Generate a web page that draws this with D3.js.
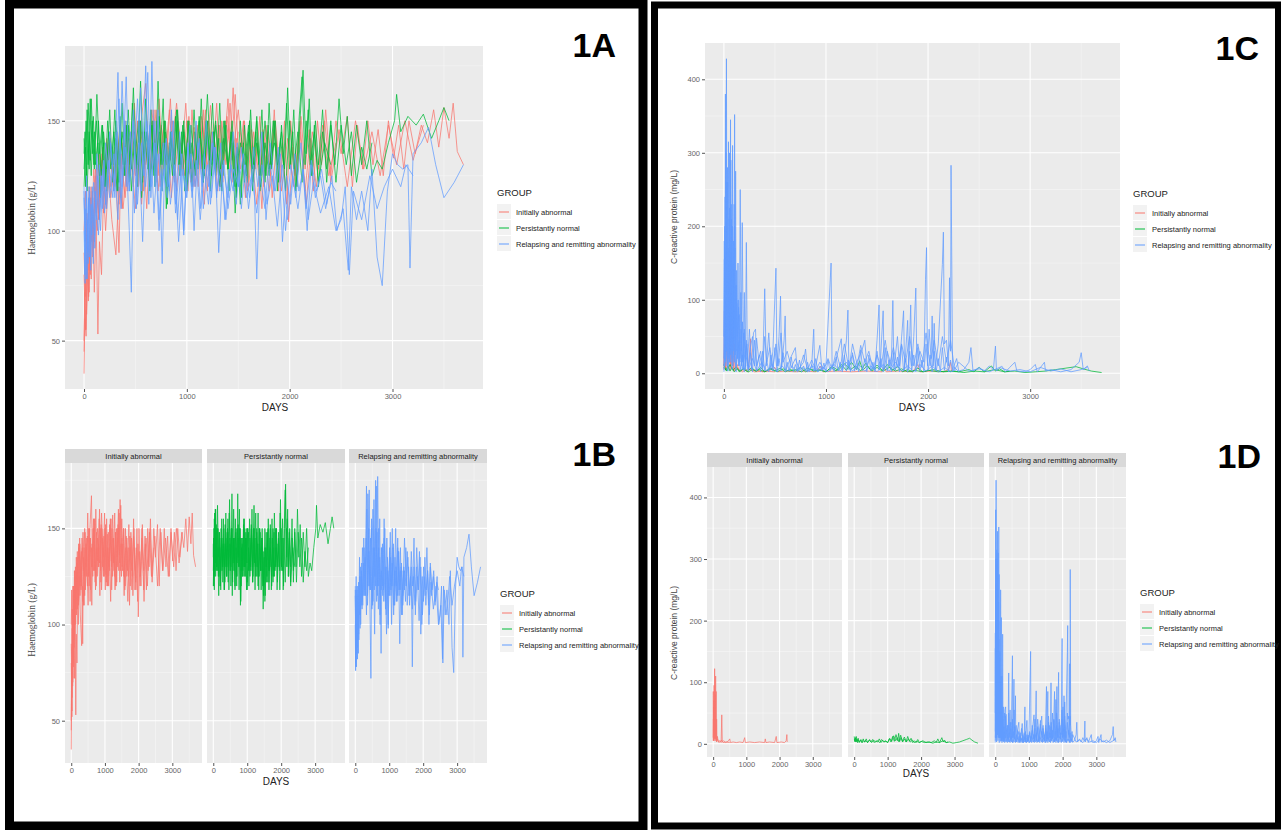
<!DOCTYPE html>
<html>
<head>
<meta charset="utf-8">
<script src="https://cdn.jsdelivr.net/npm/d3@7"></script>
<style>
  body { margin: 0; background: #fff; }
  text { font-family: "Liberation Sans", Arial, sans-serif; }
</style>
</head>
<body>
<div id="chart"></div>
<script>
// Groups and colours (ggplot default hue palette)
const groups = ["Initially abnormal", "Persistantly normal", "Relapsing and remitting abnormality"];
const colors = ["#F8766D", "#00BA38", "#619CFF"];

const xTicks = [0, 1000, 2000, 3000];
const xMinor = [500, 1500, 2500, 3500];
const hbTicks = [50, 100, 150];
const hbMinor = [75, 125, 175];
const crpTicks = [0, 100, 200, 300, 400];
const crpMinor = [50, 150, 250, 350];

// Haemoglobin (g/L), one array of [day, value] per patient
const hbInitiallyAbnormal = [
  [[0,35],[8,60],[20,52],[35,85],[50,72],[70,110],[90,95],[110,125],[140,108],[170,132],[200,118],[240,140],[280,122],[320,145],[360,128],[400,150],[440,130],[480,146],[520,125],[560,152],[600,167],[630,130],[670,150],[710,122],[750,148],[790,133],[830,155],[870,128],[910,150],[950,135],[990,158],[1030,126],[1070,147],[1110,120],[1150,150],[1190,133],[1230,157],[1270,128],[1310,148],[1350,122],[1390,152],[1430,136],[1470,162],[1510,130],[1550,150],[1590,118],[1630,146],[1670,128],[1710,152],[1750,120],[1790,145],[1830,115],[1870,140],[1910,122],[1950,150],[1990,104],[2030,138],[2070,120],[2110,152],[2150,128],[2190,146],[2230,118],[2270,150],[2310,130],[2350,155],[2400,125],[2450,150],[2500,135],[2560,152],[2610,120],[2660,148],[2710,128],[2760,150],[2810,130],[2860,146],[2910,125],[2960,150],[3010,133],[3060,148],[3110,128],[3160,150],[3220,135],[3280,148],[3340,140],[3400,155],[3450,138],[3500,156],[3550,142],[3590,158],[3630,136],[3690,130]],
  [[0,50],[10,78],[25,62],[40,95],[60,80],[80,118],[100,98],[125,130],[150,105],[180,138],[210,112],[250,145],[290,118],[330,140],[370,110],[410,148],[450,125],[490,158],[530,120],[570,145],[610,110],[650,150],[690,128],[730,160],[770,125],[810,142],[850,115],[890,152],[930,130],[970,146],[1010,118],[1050,155],[1090,125],[1130,140],[1170,112],[1210,150],[1250,132],[1290,158],[1330,120],[1370,145],[1410,128],[1450,165],[1490,125],[1530,142],[1570,115],[1610,150],[1650,125],[1690,140],[1730,110],[1770,148],[1810,125],[1850,155],[1890,118],[1930,140],[1970,112],[2010,150],[2050,125],[2100,145],[2150,118],[2200,142],[2260,120],[2320,148],[2380,125],[2450,140]],
  [[0,80],[15,55],[30,98],[45,70],[65,115],[85,88],[105,120],[130,100],[160,128],[190,108],[220,140],[260,120],[300,138],[340,90],[360,135],[400,115],[440,142],[480,120],[520,150],[560,112],[600,140],[640,125],[680,155],[720,118],[760,140],[800,130],[840,160],[880,122],[920,145],[960,128],[1000,150],[1040,122],[1080,140],[1120,130],[1160,155],[1200,118],[1240,145],[1280,125],[1320,148],[1360,135],[1400,160],[1440,122],[1480,142],[1520,128],[1560,150],[1600,120],[1650,145],[1700,125],[1750,140],[1800,118],[1850,146],[1900,128]],
  [[0,90],[12,70],[28,108],[48,82],[68,120],[88,92],[112,128],[140,105],[175,135],[215,110],[255,142],[300,120],[350,148],[400,125],[450,140],[500,110],[550,145],[600,130],[660,155],[720,125],[780,150],[840,132],[900,158],[960,125],[1020,148],[1080,120],[1140,152],[1200,130],[1260,145],[1320,120],[1380,150],[1440,132],[1500,155],[1560,125],[1620,140],[1680,112],[1740,146],[1800,128],[1860,150],[1920,118],[1980,142],[2040,120],[2100,150],[2160,112],[2220,145],[2280,128],[2340,150],[2400,122],[2480,146],[2560,120],[2640,150],[2720,128],[2800,145],[2880,125],[2960,148],[3040,130],[3120,150],[3200,132],[3300,148]],
  [[0,45],[8,72],[18,55],[30,88],[42,68],[55,100],[70,78],[85,110],[100,72],[118,105],[135,53],[150,95],[170,80],[190,118],[210,100],[240,125],[270,105],[310,89],[340,120],[380,110],[420,132]],
  [[0,100],[15,118],[30,85],[50,120],[70,95],[95,128],[120,108],[150,135],[185,118],[220,142],[260,115],[300,130],[340,112],[380,140],[420,118],[460,145],[500,125],[540,150],[580,118],[620,142],[660,128],[700,155],[740,120],[780,145],[820,130],[860,150],[900,118],[940,140],[980,125],[1020,152],[1060,120],[1100,148],[1140,128],[1180,155],[1220,125],[1260,140],[1300,118],[1340,150],[1380,130],[1420,158],[1460,128],[1500,145]]
];

const hbPersistantlyNormal = [
  [[0,142],[15,120],[30,155],[50,128],[70,160],[95,130],[120,150],[150,125],[180,148],[210,120],[240,145],[270,130],[300,155],[330,118],[360,142],[390,125],[420,150],[450,130],[480,165],[510,128],[540,150],[570,122],[600,160],[630,132],[660,148],[690,120],[720,168],[750,130],[780,150],[810,112],[840,145],[870,128],[900,155],[930,125],[960,148],[990,132],[1020,150],[1050,120],[1080,145],[1110,128],[1140,160],[1170,125],[1200,150],[1230,118],[1260,145],[1290,130],[1320,158],[1350,125],[1380,148],[1410,118],[1440,140],[1470,108],[1500,135],[1530,115],[1560,148],[1590,122],[1620,155],[1650,128],[1680,150],[1710,118],[1740,145],[1770,125],[1800,158],[1830,130],[1860,150],[1890,122],[1920,148],[1950,128],[1980,165],[2010,130],[2040,155],[2070,120],[2100,150],[2130,173],[2160,135],[2190,160],[2220,125],[2250,150],[2280,130],[2320,155],[2360,122],[2400,148],[2440,130],[2480,160],[2520,135],[2560,152],[2600,125],[2650,148],[2700,130],[2750,150],[2800,125],[2850,132],[2900,128],[2960,140],[3020,150],[3040,162],[3080,145],[3150,152],[3230,148],[3300,153],[3380,142],[3450,150],[3500,156],[3550,150]],
  [[0,135],[10,145],[25,125],[40,158],[60,132],[80,150],[100,128],[125,162],[150,135],[175,148],[200,120],[230,150],[260,128],[290,145],[320,118],[350,152],[380,130],[410,148],[440,122],[470,158],[500,135],[530,150],[560,115],[590,145],[620,128],[650,155],[680,125],[710,150],[740,135],[770,160],[800,110],[830,140],[860,125],[890,152],[920,130],[950,145],[980,118],[1010,150],[1040,128],[1070,155],[1100,130],[1130,145],[1160,122],[1190,150],[1220,132],[1250,158],[1280,125],[1310,142],[1340,118],[1370,150],[1400,128],[1430,145],[1460,120],[1490,138],[1520,112],[1550,140],[1580,125],[1610,150],[1640,118],[1670,145],[1700,130],[1730,155],[1760,122],[1790,148],[1820,128],[1850,150],[1880,118],[1910,142],[1940,130],[1970,158],[2000,128],[2030,145],[2060,118],[2090,150],[2120,170],[2150,130],[2180,155],[2210,125],[2240,148],[2280,120],[2320,145],[2360,128],[2400,150],[2450,122],[2500,148],[2550,130],[2600,145],[2650,122],[2700,138],[2750,128],[2800,140]],
  [[0,120],[15,138],[30,118],[50,145],[70,125],[90,152],[110,130],[135,140],[160,115],[190,145],[220,128],[250,155],[280,122],[310,142],[340,130],[370,158],[400,125],[430,148],[460,118],[490,142],[520,130],[550,168],[580,128],[610,145],[640,120],[670,150],[700,132],[730,145],[760,118],[790,150],[820,128],[850,145],[880,125],[910,155],[940,130],[970,150],[1000,122],[1040,148],[1080,125],[1120,150],[1160,130],[1200,162],[1240,125],[1280,148],[1320,120],[1360,150],[1400,128],[1440,145],[1480,115],[1520,150],[1560,122],[1600,145],[1640,128],[1680,152],[1720,120],[1760,140],[1800,125],[1840,150],[1880,130],[1920,145],[1960,118],[2000,150],[2040,128],[2080,145],[2120,122],[2160,150],[2200,130],[2240,145],[2280,122],[2340,140],[2400,130]],
  [[0,128],[20,150],[40,130],[60,160],[80,135],[100,145],[120,128],[140,150],[165,125],[190,140],[220,118],[250,142],[280,130],[310,150],[340,122],[370,145],[400,130],[430,155],[460,128],[490,145],[520,120],[550,150],[580,132],[610,145],[640,118],[670,140],[700,125],[730,152],[760,130],[790,145],[820,120],[850,142],[880,130],[910,150],[940,125],[970,145],[1000,118],[1040,140],[1080,128],[1120,152],[1160,122],[1200,145],[1240,130],[1280,150],[1320,125],[1360,142],[1400,128],[1440,150],[1480,120],[1520,140],[1560,130],[1600,148],[1640,122],[1680,140],[1720,125],[1760,150],[1800,128],[1850,140],[1900,130]]
];

const hbRelapsing = [
  [[0,120],[8,80],[18,110],[30,78],[45,115],[60,88],[80,120],[100,95],[125,135],[150,105],[180,128],[210,112],[250,145],[290,118],[330,172],[360,115],[400,150],[440,100],[460,72],[480,125],[520,160],[560,118],[600,175],[630,112],[660,177],[690,120],[720,155],[760,85],[790,140],[830,118],[870,150],[910,105],[950,135],[990,115],[1030,148],[1070,100],[1110,140],[1150,120],[1190,150],[1230,112],[1270,138],[1310,90],[1350,130],[1400,115],[1450,145],[1500,120],[1550,135],[1600,110],[1650,130],[1680,78],[1710,125],[1760,110],[1810,140],[1860,118],[1910,135],[1960,100],[2010,130],[2060,115],[2110,140],[2160,110],[2210,132],[2260,118],[2310,128],[2360,112],[2410,125],[2460,100],[2520,110],[2570,82],[2600,120],[2650,105],[2700,118],[2760,100],[2800,128],[2850,88],[2900,75],[2950,118],[3000,135],[3050,130],[3100,128],[3150,130],[3170,83],[3200,135],[3280,140],[3350,147],[3420,130],[3500,115],[3600,122],[3690,130]],
  [[0,100],[10,76],[22,118],[35,90],[50,120],[65,82],[85,115],[105,92],[130,125],[160,100],[190,132],[220,110],[260,140],[300,115],[340,160],[370,120],[410,170],[440,118],[480,150],[510,110],[550,165],[580,125],[620,172],[650,115],[690,150],[730,105],[770,140],[810,120],[850,155],[890,112],[930,145],[970,100],[1010,138],[1050,118],[1090,150],[1130,110],[1170,135],[1210,120],[1250,145],[1290,115],[1330,140],[1370,105],[1410,128],[1450,118],[1490,140],[1530,110],[1570,130],[1610,115],[1650,138],[1690,120],[1730,145],[1770,105],[1810,130],[1850,118],[1890,138],[1930,95],[1970,125],[2010,112],[2050,135],[2090,118],[2130,128],[2170,100],[2210,130],[2250,115],[2300,125],[2350,110],[2400,122],[2450,118]],
  [[0,115],[12,95],[25,125],[40,85],[55,118],[75,98],[95,122],[120,105],[150,130],[180,110],[210,140],[250,115],[290,135],[330,105],[370,168],[410,120],[450,145],[490,108],[530,140],[570,95],[610,150],[650,120],[690,140],[730,100],[770,128],[810,115],[850,145],[890,108],[930,130],[970,98],[1010,140],[1050,115],[1090,132],[1130,105],[1170,128],[1210,112],[1250,140],[1290,118],[1330,128],[1380,105],[1430,130],[1480,112],[1530,138],[1580,115],[1630,125],[1680,108],[1730,130],[1780,112],[1830,125],[1880,102],[1930,130],[1980,105],[2030,125],[2080,110],[2130,128],[2180,105],[2230,122],[2300,108],[2380,120],[2450,100],[2500,105],[2540,120],[2580,80],[2620,118],[2700,105],[2780,125],[2850,110],[2920,120],[3000,128],[3080,120],[3130,130],[3200,125]],
  [[0,118],[10,100],[20,78],[35,105],[50,88],[70,112],[90,85],[110,118],[140,98],[170,125],[200,108],[240,132],[280,115],[320,145],[360,110],[400,138],[440,118],[480,155],[520,112],[560,140],[600,120],[640,148],[680,108],[720,135],[760,118],[800,142],[840,112],[880,130],[920,95],[960,128],[1000,115],[1040,135],[1080,120],[1120,142],[1160,110],[1200,130],[1240,115],[1280,138],[1320,118],[1360,132],[1400,110],[1450,128],[1500,120]]
];

// C-reactive protein (mg/L), one array of [day, value] per patient
const crpInitiallyAbnormal = [
  [[0,5],[5,85],[10,20],[15,60],[20,5],[30,95],[38,10],[45,122],[52,15],[60,80],[68,8],[75,110],[82,10],[90,85],[98,5],[105,40],[115,5],[130,12],[150,3],[200,5],[240,2],[260,47],[275,3],[320,5],[380,2],[450,4],[500,8],[520,2],[600,3],[700,2],[800,3],[900,2],[950,10],[970,2],[1100,3],[1250,2],[1400,3],[1550,2],[1570,8],[1590,2],[1700,3],[1850,2],[1900,12],[1920,2],[2050,3],[2150,2],[2200,5],[2220,15],[2230,3]],
  [[0,10],[8,40],[16,5],[25,70],[35,8],[50,50],[60,5],[80,30],[100,3],[130,8],[180,2],[250,6],[300,2],[400,3],[500,2]]
];

const crpPersistantlyNormal = [
  [[0,12],[20,4],[40,10],[60,3],[80,8],[100,2],[130,6],[160,3],[200,7],[240,2],[280,5],[320,3],[360,8],[400,2],[450,6],[500,3],[550,7],[600,2],[650,5],[700,3],[750,8],[800,2],[850,6],[900,3],[950,4],[1000,2],[1050,8],[1100,3],[1150,12],[1200,4],[1250,15],[1300,5],[1330,17],[1360,4],[1400,10],[1450,3],[1500,8],[1550,3],[1600,12],[1650,4],[1700,9],[1750,2],[1800,5],[1850,2],[1900,7],[1950,2],[2000,4],[2100,2],[2200,3],[2300,2],[2400,5],[2450,2],[2500,8],[2550,2],[2620,10],[2660,3],[2700,6],[2750,2],[2850,3],[2950,1],[3050,2],[3150,3],[3250,5],[3350,7],[3450,9],[3520,6],[3600,3],[3700,1]],
  [[0,8],[30,3],[60,12],[90,4],[120,9],[150,2],[190,6],[230,2],[270,8],[310,3],[350,5],[400,2],[460,7],[520,2],[580,6],[640,3],[700,5],[760,2],[820,7],[880,3],[940,5],[1000,2],[1060,9],[1120,4],[1180,13],[1240,5],[1290,10],[1340,3],[1390,14],[1440,4],[1500,11],[1560,3],[1620,8],[1680,3],[1740,6],[1800,2],[1870,4],[1950,2],[2050,5],[2150,2],[2250,3],[2350,1],[2450,3],[2550,2],[2650,5],[2750,2],[2800,3]]
];

const crpRelapsing = [
  [[0,20],[5,155],[10,10],[15,380],[20,30],[25,428],[30,50],[35,280],[40,20],[45,315],[50,60],[55,225],[60,15],[65,345],[70,40],[75,210],[80,25],[85,310],[90,30],[95,180],[100,60],[105,352],[110,40],[115,275],[120,30],[125,140],[130,20],[140,100],[150,10],[160,250],[170,30],[180,205],[190,15],[200,110],[210,5],[220,178],[230,10],[250,60],[270,5],[290,55],[310,60],[320,10],[350,25],[380,5],[400,115],[415,10],[440,55],[460,5],[480,30],[510,143],[520,10],[540,50],[555,105],[565,8],[590,45],[600,78],[610,5],[650,20],[700,35],[720,3],[780,15],[800,33],[820,2],[860,10],[880,60],[890,3],[940,38],[960,5],[1000,12],[1050,150],[1060,8],[1100,20],[1150,47],[1165,5],[1200,45],[1215,86],[1225,5],[1260,40],[1300,15],[1350,30],[1380,45],[1400,10],[1430,20],[1480,5],[1500,45],[1520,93],[1530,8],[1560,85],[1570,5],[1600,30],[1640,10],[1655,99],[1665,5],[1700,50],[1720,10],[1760,85],[1770,5],[1800,72],[1810,5],[1830,93],[1840,10],[1860,50],[1880,116],[1890,10],[1920,30],[1960,15],[1975,128],[1985,171],[1995,10],[2010,60],[2030,20],[2040,78],[2050,10],[2060,68],[2070,5],[2100,40],[2140,148],[2150,192],[2160,40],[2180,45],[2200,10],[2210,130],[2220,30],[2225,283],[2230,195],[2240,5],[2280,20],[2300,3],[2350,5],[2400,15],[2420,35],[2440,3],[2500,8],[2550,3],[2600,10],[2640,5],[2660,37],[2670,3],[2720,10],[2760,2],[2800,8],[2850,15],[2870,3],[2950,2],[3000,5],[3050,12],[3070,2],[3140,15],[3150,3],[3200,5],[3300,2],[3400,5],[3480,15],[3500,28],[3520,5],[3560,10],[3580,3]],
  [[0,50],[8,200],[16,40],[24,260],[32,30],[40,170],[48,70],[56,300],[64,50],[72,230],[80,60],[88,150],[96,45],[104,200],[112,30],[120,120],[132,50],[144,90],[156,20],[168,60],[180,15],[195,55],[210,20],[225,40],[240,8],[260,35],[280,50],[300,10],[320,48],[340,20],[360,30],[380,8],[400,50],[420,15],[450,35],[480,8],[510,40],[530,10],[560,55],[580,15],[620,30],[660,8],[700,20],[740,5],[780,25],[820,5],[860,18],[900,4],[940,15],[980,5],[1020,20],[1060,5],[1100,30],[1140,8],[1180,40],[1220,10],[1260,25],[1300,5],[1340,38],[1380,15],[1420,30],[1460,5],[1500,25],[1540,8],[1580,45],[1620,10],[1660,35],[1700,8],[1740,40],[1780,15],[1820,50],[1860,10],[1900,40],[1940,8],[1980,55],[2020,10],[2060,45],[2100,10],[2140,50],[2180,15],[2220,45],[2260,5],[2300,15],[2400,3],[2500,6],[2600,2],[2700,8],[2800,3],[2900,5],[3000,2],[3100,8],[3200,3],[3300,6],[3400,2],[3500,5],[3560,8]],
  [[0,5],[20,60],[40,10],[60,120],[80,15],[100,90],[120,10],[150,45],[180,5],[210,30],[240,5],[280,20],[320,3],[370,15],[420,3],[470,12],[520,2],[570,10],[620,3],[670,9],[720,2],[770,8],[820,2],[870,10],[920,2],[970,8],[1020,2],[1080,12],[1140,3],[1200,15],[1260,3],[1320,12],[1380,3],[1440,10],[1500,2],[1560,12],[1620,3],[1680,15],[1740,3],[1800,10],[1860,2],[1920,12],[1980,3],[2040,10],[2100,2],[2160,8],[2220,2],[2280,5]],
  [[0,2],[20,35],[40,3],[60,48],[80,5],[100,30],[120,2],[140,42],[160,4],[180,25],[200,2],[220,38],[240,3],[260,28],[280,2],[300,45],[320,4],[340,22],[360,2],[380,30],[400,3],[420,18],[440,2],[460,25],[480,3],[500,35],[520,2],[540,20],[560,3],[580,28],[600,2],[620,15],[640,3],[660,22],[680,2],[700,12],[720,3],[740,18],[760,2],[780,10],[800,3],[820,15],[840,2],[860,12],[880,3],[900,20],[920,2],[940,10],[960,3],[980,14],[1000,2],[1020,18],[1040,3],[1060,12],[1080,2],[1100,22],[1120,3],[1140,15],[1160,2],[1180,25],[1200,3],[1220,18],[1240,2],[1260,28],[1280,3],[1300,15],[1320,2],[1340,32],[1360,4],[1380,20],[1400,2],[1420,25],[1440,3],[1460,15],[1480,2],[1500,30],[1520,4],[1540,20],[1560,2],[1580,35],[1600,3],[1620,18],[1640,2],[1660,28],[1680,4],[1700,22],[1720,2],[1740,38],[1760,3],[1780,20],[1800,2],[1820,30],[1840,4],[1860,25],[1880,2],[1900,35],[1920,3],[1940,18],[1960,2],[1980,40],[2000,4],[2020,25],[2040,2],[2060,30],[2080,3],[2100,20],[2120,2],[2140,35],[2160,4],[2180,22],[2200,2],[2220,18],[2240,3],[2260,8],[2300,2]],
  [[0,10],[4,180],[8,20],[12,240],[16,15],[20,300],[24,30],[28,200],[32,10],[36,260],[40,40],[44,150],[48,20],[52,210],[56,15],[60,180],[64,25],[68,290],[72,30],[76,160],[80,20],[84,200],[88,10],[92,140],[96,30],[100,230],[104,15],[108,170],[112,25],[116,120],[120,10],[126,95],[132,20],[138,150],[144,10],[150,80],[158,15],[166,110],[174,10],[182,70],[190,5],[200,60],[210,8],[220,45],[230,5]]
];

const hbData = [hbInitiallyAbnormal, hbPersistantlyNormal, hbRelapsing];
const crpData = [crpInitiallyAbnormal, crpPersistantlyNormal, crpRelapsing];

const W = 1281, H = 830;
const svg = d3.select("#chart").append("svg")
    .attr("width", W)
    .attr("height", H);

// Black frames
svg.append("rect").attr("x", 9.5).attr("y", 4).attr("width", 633.5).attr("height", 822)
    .attr("fill", "none").attr("stroke", "#000").attr("stroke-width", 9);
svg.append("rect").attr("x", 654.5).attr("y", 5).attr("width", 624).attr("height", 821)
    .attr("fill", "none").attr("stroke", "#000").attr("stroke-width", 7);

const xDomain = [-185, 3880];
const hbDomain = [28, 184];
const crpDomain = [-21.4, 449.4];

// One ggplot-like panel
function panel(p) {
  const g = svg.append("g");
  const x = d3.scaleLinear().domain(xDomain).range([p.x0, p.x1]);
  const y = d3.scaleLinear().domain(p.yDomain).range([p.y1, p.y0]);

  g.append("rect").attr("x", p.x0).attr("y", p.y0)
      .attr("width", p.x1 - p.x0).attr("height", p.y1 - p.y0).attr("fill", "#ebebeb");

  // minor grid
  g.selectAll(".vmin").data(xMinor).join("line")
      .attr("x1", d => x(d)).attr("x2", d => x(d)).attr("y1", p.y0).attr("y2", p.y1)
      .attr("stroke", "#f6f6f6").attr("stroke-width", 0.6);
  g.selectAll(".hmin").data(p.yMinor).join("line")
      .attr("y1", d => y(d)).attr("y2", d => y(d)).attr("x1", p.x0).attr("x2", p.x1)
      .attr("stroke", "#f6f6f6").attr("stroke-width", 0.6);
  // major grid
  g.selectAll(".vmaj").data(xTicks).join("line")
      .attr("x1", d => x(d)).attr("x2", d => x(d)).attr("y1", p.y0).attr("y2", p.y1)
      .attr("stroke", "#fff").attr("stroke-width", 1.1);
  g.selectAll(".hmaj").data(p.yTicks).join("line")
      .attr("y1", d => y(d)).attr("y2", d => y(d)).attr("x1", p.x0).attr("x2", p.x1)
      .attr("stroke", "#fff").attr("stroke-width", 1.1);

  // strip for facets
  if (p.strip) {
    g.append("rect").attr("x", p.x0).attr("y", p.y0 - 14)
        .attr("width", p.x1 - p.x0).attr("height", 14).attr("fill", "#d9d9d9");
    g.append("text").attr("x", (p.x0 + p.x1) / 2).attr("y", p.y0 - 4)
        .attr("text-anchor", "middle").attr("font-size", 7.5).attr("fill", "#1a1a1a")
        .text(p.strip);
  }

  // lines
  const line = d3.line().x(d => x(d[0])).y(d => y(d[1]));
  p.series.forEach(s => {
    g.append("g").selectAll("path").data(s.patients).join("path")
        .attr("d", line)
        .attr("fill", "none")
        .attr("stroke", s.color)
        .attr("stroke-width", 0.75)
        .attr("stroke-linejoin", "round");
  });

  // axes
  g.append("g").attr("transform", `translate(0,${p.y1})`)
      .call(d3.axisBottom(x).tickValues(xTicks).tickSize(3).tickPadding(2).tickFormat(d3.format("d")));
  if (p.showY) {
    g.append("g").attr("transform", `translate(${p.x0},0)`)
        .call(d3.axisLeft(y).tickValues(p.yTicks).tickSize(3).tickPadding(2).tickFormat(d3.format("d")));
  }
  g.selectAll(".domain").remove();
  g.selectAll(".tick line").attr("stroke", "#555");
  g.selectAll(".tick text").attr("fill", "#666").attr("font-size", 7.5)
      .attr("font-family", "Liberation Sans, Arial, sans-serif");
}

function legend(lx, ly) {
  const g = svg.append("g").attr("transform", `translate(${lx},${ly})`);
  g.append("text").attr("x", 0).attr("y", 0).attr("font-size", 9.5).attr("fill", "#222").text("GROUP");
  groups.forEach((name, i) => {
    const yy = 16 + i * 16;
    g.append("rect").attr("x", 0).attr("y", yy - 8).attr("width", 14).attr("height", 15).attr("fill", "#f2f2f2");
    g.append("line").attr("x1", 2).attr("x2", 12).attr("y1", yy).attr("y2", yy)
        .attr("stroke", colors[i]).attr("stroke-width", 1);
    g.append("text").attr("x", 19).attr("y", yy + 2.5).attr("font-size", 7.5).attr("fill", "#222").text(name);
  });
}

function panelLabel(txt, xr, yb) {
  svg.append("text").attr("x", xr).attr("y", yb).attr("text-anchor", "end")
      .attr("font-size", 34).attr("font-weight", "bold").attr("fill", "#000").text(txt);
}

function yTitle(txt, x, yc, serif) {
  svg.append("text").attr("transform", `translate(${x},${yc}) rotate(-90)`)
      .attr("text-anchor", "middle").attr("font-size", serif ? 9.5 : 8.5)
      .attr("fill", "#444")
      .style("font-family", serif ? "Liberation Serif, DejaVu Serif, serif" : "Liberation Sans, Arial, sans-serif")
      .text(txt);
}

function xTitle(x, y) {
  svg.append("text").attr("x", x).attr("y", y).attr("text-anchor", "middle")
      .attr("font-size", 10).attr("fill", "#222").text("DAYS");
}

// ---- 1A: Haemoglobin, all groups overlaid
panel({
  x0: 65, x1: 483, y0: 46, y1: 389, yDomain: hbDomain, yTicks: hbTicks, yMinor: hbMinor, showY: true,
  series: groups.map((gname, i) => ({ color: colors[i], patients: hbData[i] }))
});
yTitle("Haemoglobin (g/L)", 35, 218, true);
xTitle(275, 411);
legend(497, 196);
panelLabel("1A", 616, 57);

// ---- 1B: Haemoglobin faceted by group
const hbFacets = [[65, 202], [207, 345], [349, 487]];
hbFacets.forEach((f, i) => {
  panel({
    x0: f[0], x1: f[1], y0: 463, y1: 763, yDomain: hbDomain, yTicks: hbTicks, yMinor: hbMinor,
    showY: i === 0, strip: groups[i],
    series: [{ color: colors[i], patients: hbData[i] }]
  });
});
yTitle("Haemoglobin (g/L)", 35, 620, true);
xTitle(276, 785);
legend(500, 597);
panelLabel("1B", 616, 466);

// ---- 1C: CRP, all groups overlaid
panel({
  x0: 705, x1: 1120, y0: 43, y1: 389, yDomain: crpDomain, yTicks: crpTicks, yMinor: crpMinor, showY: true,
  series: groups.map((gname, i) => ({ color: colors[i], patients: crpData[i] }))
});
yTitle("C-reactive protein (mg/L)", 677, 217, false);
xTitle(912, 411);
legend(1133, 197);
panelLabel("1C", 1259, 60);

// ---- 1D: CRP faceted by group
const crpFacets = [[707, 842], [848, 984], [989, 1126]];
crpFacets.forEach((f, i) => {
  panel({
    x0: f[0], x1: f[1], y0: 467, y1: 757, yDomain: crpDomain, yTicks: crpTicks, yMinor: crpMinor,
    showY: i === 0, strip: groups[i],
    series: [{ color: colors[i], patients: crpData[i] }]
  });
});
yTitle("C-reactive protein (mg/L)", 677, 633, false);
xTitle(916, 777);
legend(1140, 596);
panelLabel("1D", 1261, 468);
</script>
</body>
</html>
